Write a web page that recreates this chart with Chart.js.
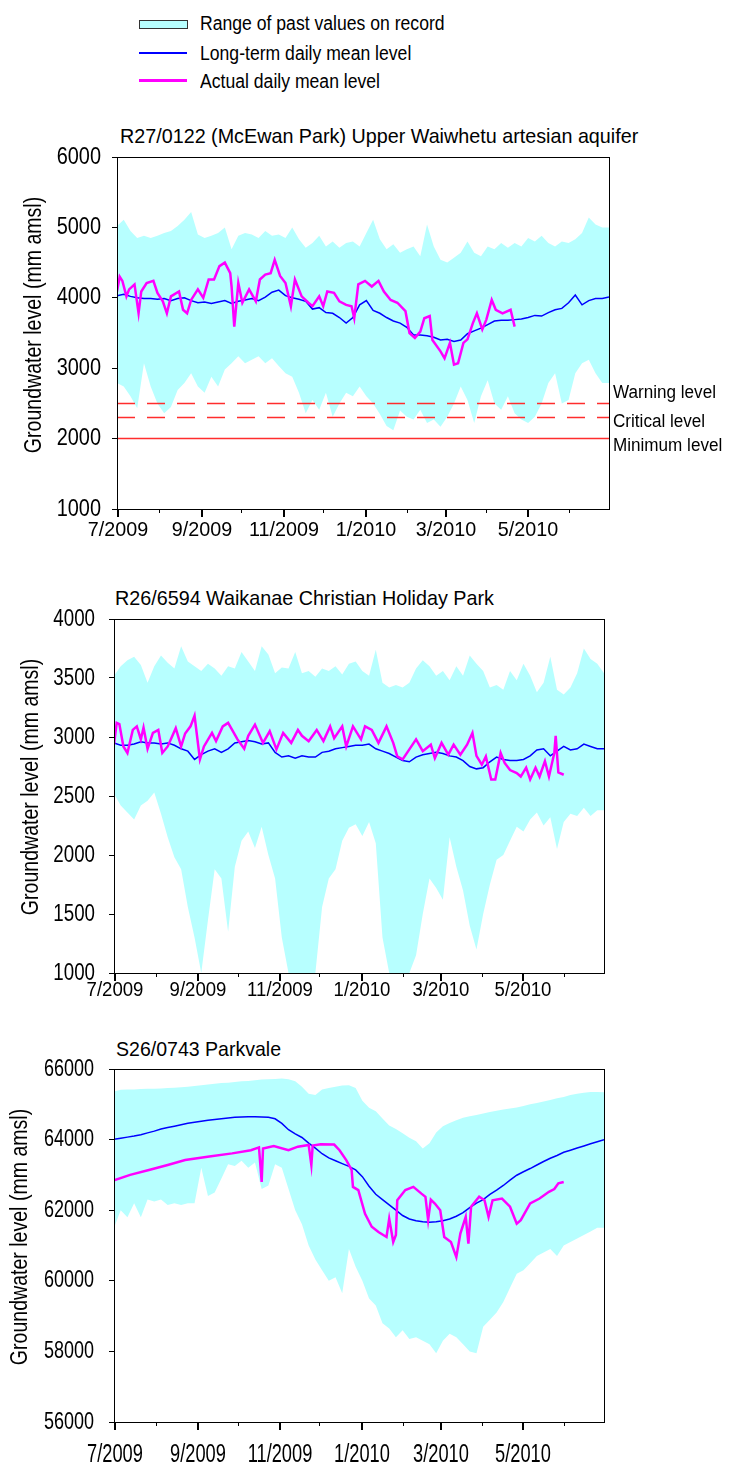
<!DOCTYPE html>
<html>
<head>
<meta charset="utf-8">
<script src="https://cdn.jsdelivr.net/npm/chart.js@4.4.1/dist/chart.umd.min.js"></script>
<style>
  html, body { margin: 0; padding: 0; background: #fff; }
  body { width: 729px; height: 1466px; position: relative; overflow: hidden;
         font-family: "Liberation Sans", Arial, sans-serif; color: #000; }
  canvas { position: absolute; left: 0; }
  .t { position: absolute; white-space: nowrap; line-height: 1; transform-origin: 0 50%; }
  .sw { position: absolute; }
</style>
</head>
<body>
<!-- legend -->
<div class="sw" style="left:139px;top:20px;width:47px;height:7px;background:rgb(183,255,255);border:1px solid #333;"></div>
<div class="sw" style="left:139px;top:52px;width:48px;height:1.5px;background:#0000ff;"></div>
<div class="sw" style="left:139px;top:79px;width:48px;height:3px;background:#ff00ff;"></div>
<div class="t" style="left:200px;top:13px;font-size:20px;transform:scaleX(0.88);">Range of past values on record</div>
<div class="t" style="left:200px;top:43px;font-size:20px;transform:scaleX(0.88);">Long-term daily mean level</div>
<div class="t" style="left:200px;top:71px;font-size:20px;transform:scaleX(0.88);">Actual daily mean level</div>

<div class="t" style="left:120px;top:125px;font-size:21px;transform:scaleX(0.94);">R27/0122 (McEwan Park) Upper Waiwhetu artesian aquifer</div>
<div class="t" style="left:115px;top:587px;font-size:21px;transform:scaleX(0.94);">R26/6594 Waikanae Christian Holiday Park</div>
<div class="t" style="left:116px;top:1038px;font-size:21px;transform:scaleX(0.93);">S26/0743 Parkvale</div>

<canvas id="c1" width="729" height="420" style="top:140px"></canvas>
<canvas id="c2" width="729" height="405" style="top:605px"></canvas>
<canvas id="c3" width="729" height="411" style="top:1055px"></canvas>

<script>
// ---------------- DATA ----------------
// x axis: days since 1 July 2009
const monthDays   = [0, 31, 62, 92, 123, 153, 184, 215, 243, 274, 304, 335];
const monthLabels = ['7/2009', '', '9/2009', '', '11/2009', '', '1/2010', '', '3/2010', '', '5/2010', ''];

// sampling days for the record range and long-term mean
const bandDays = [0,5,10,15,20,25,30,35,40,45,50,55,60,65,70,75,80,85,90,95,100,105,110,115,120,125,130,135,140,145,
  150,155,160,165,170,175,180,185,190,195,200,205,210,215,220,225,230,235,240,245,250,255,260,265,270,275,280,285,290,295,
  300,305,310,315,320,325,330,335,340,345,350,355,360,365];

// ---- Chart 1: R27/0122 (McEwan Park) ----
const c1Max = [5020,5110,4950,4850,4880,4850,4880,4920,4950,5020,
  5110,5220,4900,4850,4880,4920,5000,4690,4880,4920,
  4900,4850,4950,4880,4900,4850,5000,4830,4710,4780,
  4880,4730,4800,4710,4780,4800,4730,4920,5110,4830,
  4690,4760,4640,4690,4730,4590,5040,4730,4540,4500,
  4570,4640,4800,4640,4590,4730,4690,4780,4710,4780,
  4730,4850,4800,4880,4780,4730,4800,4780,4830,4920,
  5140,5040,5000,5000];
const c1Min = [2790,2740,2600,2430,3070,2740,2500,2360,2450,2690,
  2790,2930,2740,2650,2880,2740,2980,3070,3170,3070,
  3120,3170,3070,3140,3030,2930,2880,2650,2360,2550,
  2410,2650,2310,2500,2650,2600,2740,2600,2500,2350,
  2180,2120,2400,2310,2270,2410,2220,2270,2170,2310,
  2500,2740,2550,2220,2600,2830,2500,2410,2600,2360,
  2270,2220,2310,2500,2790,2930,2500,2550,2930,3070,
  3120,2930,2790,2790];
const c1Mean = [4030,4050,4020,4000,3990,3990,3980,3990,3960,3990,
  4000,3960,3930,3940,3920,3940,3960,3920,3950,3970,
  3990,3960,4010,4080,4110,4030,4000,3980,3950,3840,
  3860,3790,3780,3720,3640,3720,3900,3960,3820,3780,
  3720,3670,3640,3580,3470,3470,3460,3440,3400,3410,
  3380,3400,3490,3530,3570,3620,3670,3680,3680,3690,
  3700,3720,3750,3740,3790,3830,3850,3930,4040,3900,
  3960,3990,3990,4010];
const c1ActDays = [0,2,4,7,9,13,16,18,22,27,30,34,37,40,46,49,52,55,60,64,
  68,72,76,80,84,85,87,90,93,98,103,106,110,114,117,121,125,129,132,137,
  142,145,150,153,156,161,165,170,174,176,179,184,189,194,198,203,208,214,217,221,
  225,228,232,234,240,243,247,250,253,257,260,264,267,271,274,278,281,286,292,295];
const c1Act = [4090,4300,4240,4020,4120,4190,3780,4090,4210,4240,4070,3950,3780,4020,4090,3830,3780,3970,4120,4000,
  4260,4260,4450,4500,4350,4160,3590,4210,3930,4120,3950,4260,4330,4350,4540,4310,4210,3880,4260,4020,
  3930,3880,4020,3880,4090,4070,3950,3900,3880,3710,4190,4240,4160,4240,4090,3970,3930,3810,3500,3430,
  3520,3710,3740,3400,3240,3140,3360,3050,3070,3360,3410,3640,3780,3550,3690,3970,3830,3780,3830,3590];
const c1Ticks = [1000, 2000, 3000, 4000, 5000, 6000];
const thresholdNames  = ['Warning level', 'Critical level', 'Minimum level'];
const thresholdValues = [2500, 2300, 2000];

// ---- Chart 2: R26/6594 Waikanae Christian Holiday Park ----
const c2Max = [3520,3600,3650,3680,3610,3460,3600,3690,3630,3580,
  3770,3640,3600,3560,3620,3580,3520,3600,3580,3720,
  3640,3560,3770,3700,3540,3590,3580,3720,3540,3560,
  3510,3580,3560,3600,3530,3620,3640,3560,3520,3740,
  3460,3420,3440,3420,3460,3580,3650,3600,3520,3560,
  3480,3600,3520,3690,3620,3560,3420,3440,3400,3560,
  3480,3620,3520,3380,3460,3680,3400,3360,3420,3540,
  3750,3660,3620,3540];
const c2Min = [2520,2420,2360,2300,2420,2460,2530,2350,2150,1980,
  1880,1560,1300,1000,1450,1880,1800,1350,1900,2120,
  2200,2060,2240,2000,1800,1300,1000,1000,1000,1000,
  1000,1560,1800,1880,2120,2230,2260,2160,2280,2100,
  1300,1000,1000,1000,1000,1150,1500,1800,1720,1620,
  2150,1900,1700,1400,1200,1500,1750,1960,2000,2120,
  2240,2200,2300,2360,2250,2320,2050,2280,2350,2330,
  2400,2330,2380,2380];
const c2Mean = [2950,2930,2930,2940,2960,2950,2950,2940,2950,2930,
  2900,2880,2810,2850,2880,2900,2870,2900,2950,2960,
  2970,2960,2940,2950,2870,2830,2840,2820,2840,2830,
  2830,2870,2880,2900,2910,2920,2930,2930,2940,2900,
  2880,2860,2830,2800,2790,2830,2850,2860,2870,2860,
  2840,2830,2800,2750,2730,2740,2790,2830,2810,2800,
  2800,2810,2840,2890,2900,2840,2880,2920,2890,2900,
  2940,2920,2900,2900];
const c2ActDays = [0,2,4,7,10,14,17,20,22,25,29,33,36,40,46,50,53,57,60,64,
  67,73,76,81,85,88,92,97,100,105,111,116,121,126,132,137,140,145,151,156,
  161,164,170,173,178,184,187,192,197,203,208,211,215,220,225,230,236,239,244,249,
  253,258,263,267,270,274,277,281,284,288,291,295,300,303,307,310,314,317,321,324,
  328,329,331,335];
const c2Act = [2935,3120,3110,2920,2865,3060,3090,2980,3080,2900,3035,3060,2865,2920,3075,2920,3030,3090,3180,2810,
  2920,3035,2965,3090,3120,3060,2980,2900,3010,3105,2950,3050,2895,3035,2950,3060,3010,2965,3060,2965,
  3090,2990,3090,2920,3090,2980,3090,3060,2950,3090,2950,2835,2810,2895,2980,2880,2935,2820,2950,2850,
  2935,2850,2935,3035,2840,2765,2835,2640,2640,2865,2780,2720,2695,2665,2740,2640,2740,2665,2795,2665,
  2865,3010,2700,2680];
const c2Ticks = [1000, 1500, 2000, 2500, 3000, 3500, 4000];

// ---- Chart 3: S26/0743 Parkvale ----
const c3Max = [65360,65410,65420,65420,65430,65440,65440,65450,65460,65470,
  65480,65500,65520,65540,65560,65580,65600,65610,65630,65650,
  65660,65680,65700,65710,65720,65730,65710,65650,65500,65300,
  65260,65420,65460,65500,65530,65540,65460,65100,64900,64800,
  64600,64400,64300,64180,64050,63950,63750,63900,64200,64380,
  64470,64550,64620,64660,64700,64740,64780,64820,64850,64880,
  64910,64950,65000,65040,65080,65120,65170,65210,65260,65300,
  65330,65350,65350,65340];
const c3Min = [61500,62000,61800,62200,61800,62300,62250,62300,62150,62200,
  62150,62200,62200,63200,62400,62500,62900,63300,63250,63400,
  63200,63350,62600,62700,63300,63200,62600,62000,61600,61000,
  60600,60300,60000,60100,59650,60900,60400,60000,59500,59300,
  58800,58650,58400,58600,58350,58400,58300,58200,57950,58300,
  58500,58400,58200,58000,57950,58700,58900,59100,59400,59800,
  60200,60300,60500,60700,60800,60900,60700,61000,61100,61200,
  61300,61400,61500,61500];
const c3Mean = [64010,64040,64070,64100,64140,64190,64240,64300,64340,64380,
  64420,64460,64490,64520,64550,64570,64590,64610,64630,64640,
  64650,64650,64640,64630,64590,64460,64280,64160,64060,63900,
  63760,63600,63480,63400,63320,63240,63140,62950,62680,62450,
  62300,62150,62000,61850,61750,61700,61670,61660,61670,61700,
  61750,61830,61930,62070,62200,62300,62450,62570,62700,62850,
  62990,63090,63180,63280,63380,63470,63550,63640,63700,63760,
  63820,63880,63940,64000];
const c3ActDays = [0,12,26,40,53,71,88,102,108,110,111,119,130,137,145,147,148,154,164,168,
  173,177,178,182,187,192,197,203,205,208,210,211,217,223,229,232,234,236,239,243,
  246,251,255,258,262,264,266,272,276,279,282,289,295,300,303,310,317,324,328,331,335];
const c3Act = [62850,63000,63140,63280,63420,63520,63610,63700,63780,62800,63750,63820,63700,63800,63850,63280,63830,63870,63860,63700,
  63420,63140,62660,62570,61900,61530,61380,61240,61760,61100,61300,62280,62570,62660,62470,62380,61720,62300,62190,62000,
  61240,61100,60670,61340,61810,61050,62100,62380,62280,61810,62280,62330,62100,61620,61720,62190,62330,62520,62600,62760,62800];
const c3Ticks = [56000, 58000, 60000, 62000, 64000, 66000];

// ---------------- RENDERING ----------------
const FF = '"Liberation Sans", Arial, sans-serif';
const BAND = 'rgb(183,255,255)';
const BLUE = '#0000ff';
const MAGENTA = '#ff00ff';
const RED = 'rgb(255,45,45)';

const pts = (xs, ys) => xs.map((x, i) => ({ x: x, y: ys[i] }));

// condensed canvas text (the original uses a narrow face)
function ctext(ctx, s, x, y, size, sx, align, rot) {
  ctx.save();
  ctx.translate(x, y);
  if (rot) ctx.rotate(rot);
  ctx.scale(sx, 1);
  ctx.font = size + 'px ' + FF;
  ctx.fillStyle = '#000';
  ctx.textAlign = align;
  ctx.textBaseline = 'middle';
  ctx.fillText(s, 0, 0);
  ctx.restore();
}

const decor = {
  id: 'decor',
  afterDraw(chart, args, o) {
    const { ctx, chartArea: { left, right, top, bottom }, scales: { x, y } } = chart;
    ctx.save();
    ctx.strokeStyle = '#000';
    ctx.lineWidth = 1;
    ctx.strokeRect(Math.round(left) + 0.5, Math.round(top) + 0.5, Math.round(right - left), Math.round(bottom - top));
    // month ticks + labels
    monthDays.forEach((d, i) => {
      const px = Math.round(x.getPixelForValue(d));
      const major = monthLabels[i] !== '';
      ctx.lineWidth = major ? 2 : 1;
      ctx.beginPath();
      const xx = major ? px + 1 : px + 0.5;
      ctx.moveTo(xx, bottom);
      ctx.lineTo(xx, bottom + (major ? 8 : 4));
      ctx.stroke();
      if (major) ctext(ctx, monthLabels[i], px + 1, bottom + o.xOff, o.xFont, o.xSx, 'center');
    });
    // value labels
    o.yTicks.forEach(v => {
      ctext(ctx, String(v), left - 5 - o.yPad, y.getPixelForValue(v), o.yFont, o.ySx, 'right');
    });
    // axis title
    ctext(ctx, 'Groundwater level (mm amsl)', o.titleX, o.titleY, o.titleSize, o.titleSx, 'center', -Math.PI / 2);
    // threshold labels
    if (o.thresholds) {
      const offs = [-10, 5, 7];
      thresholdValues.forEach((v, i) => {
        ctext(ctx, thresholdNames[i], right + 4, y.getPixelForValue(v) + offs[i], 18, 0.95, 'left');
      });
    }
    ctx.restore();
  }
};

function makeChart(id, c) {
  const datasets = [
    { label: 'Range of past values on record', data: pts(bandDays, c.max), borderWidth: 0, borderColor: BAND,
      backgroundColor: BAND, fill: '+1', order: 5 },
    { label: 'range-min', data: pts(bandDays, c.min), borderWidth: 0, borderColor: BAND, fill: false, order: 6 },
    { label: 'Long-term daily mean level', data: pts(bandDays, c.mean), borderColor: BLUE, borderWidth: 1.5, fill: false, order: 1 },
    { label: 'Actual daily mean level', data: pts(c.actDays, c.act), borderColor: MAGENTA, borderWidth: 2.5, fill: false, order: 0 }
  ];
  if (c.thresholds) {
    thresholdValues.forEach((v, i) => {
      datasets.push({ label: thresholdNames[i], data: [{ x: 0, y: v }, { x: 365, y: v }], borderColor: RED,
        borderWidth: 1.5, borderDash: i < 2 ? [18, 12] : [], fill: false, order: 2 });
    });
  }
  return new Chart(document.getElementById(id), {
    type: 'line',
    data: { datasets },
    options: {
      responsive: false, animation: false, devicePixelRatio: 1,
      layout: { padding: { top: c.padTop, right: c.padRight, left: 0, bottom: 0 } },
      elements: { point: { radius: 0 }, line: { tension: 0 } },
      plugins: {
        legend: { display: false }, tooltip: { enabled: false },
        decor: { titleX: c.titleX, titleY: c.titleY, titleSize: c.titleSize, titleSx: c.titleSx,
                 thresholds: !!c.thresholds, yTicks: c.yTicks, yPad: c.yPad, yFont: c.yFont, ySx: c.ySx,
                 xOff: c.xOff, xFont: c.xFont, xSx: c.xSx }
      },
      scales: {
        x: {
          type: 'linear', min: 0, max: 365,
          grid: { display: false }, border: { display: false },
          afterBuildTicks: s => { s.ticks = monthDays.map(v => ({ value: v })); },
          afterFit: s => { s.height = c.xHeight; },
          ticks: { display: false }
        },
        y: {
          min: c.yTicks[0], max: c.yTicks[c.yTicks.length - 1],
          afterBuildTicks: s => { s.ticks = c.yTicks.map(v => ({ value: v })); },
          afterFit: s => { s.width = c.axisLeft; },
          grid: { drawOnChartArea: false, drawTicks: true, tickLength: 5, color: '#000', lineWidth: 1 },
          border: { display: false },
          ticks: { display: false }
        }
      }
    },
    plugins: [decor]
  });
}

makeChart('c1', { max: c1Max, min: c1Min, mean: c1Mean, actDays: c1ActDays, act: c1Act, yTicks: c1Ticks,
  thresholds: true, padTop: 17, padRight: 120, axisLeft: 117, xHeight: 51,
  xOff: 21, xFont: 21, xSx: 0.94, yPad: 11, yFont: 24, ySx: 0.83,
  titleX: 35, titleY: 185, titleSize: 23, titleSx: 0.85 });
makeChart('c2', { max: c2Max, min: c2Min, mean: c2Mean, actDays: c2ActDays, act: c2Act, yTicks: c2Ticks,
  padTop: 14, padRight: 125, axisLeft: 114, xHeight: 37,
  xOff: 17, xFont: 20, xSx: 0.93, yPad: 14, yFont: 24, ySx: 0.78,
  titleX: 32, titleY: 182, titleSize: 23, titleSx: 0.85 });
makeChart('c3', { max: c3Max, min: c3Min, mean: c3Mean, actDays: c3ActDays, act: c3Act, yTicks: c3Ticks,
  padTop: 14, padRight: 125, axisLeft: 114, xHeight: 44,
  xOff: 33, xFont: 25, xSx: 0.73, yPad: 15, yFont: 24, ySx: 0.75,
  titleX: 21, titleY: 182, titleSize: 23, titleSx: 0.85 });
</script>
</body>
</html>
